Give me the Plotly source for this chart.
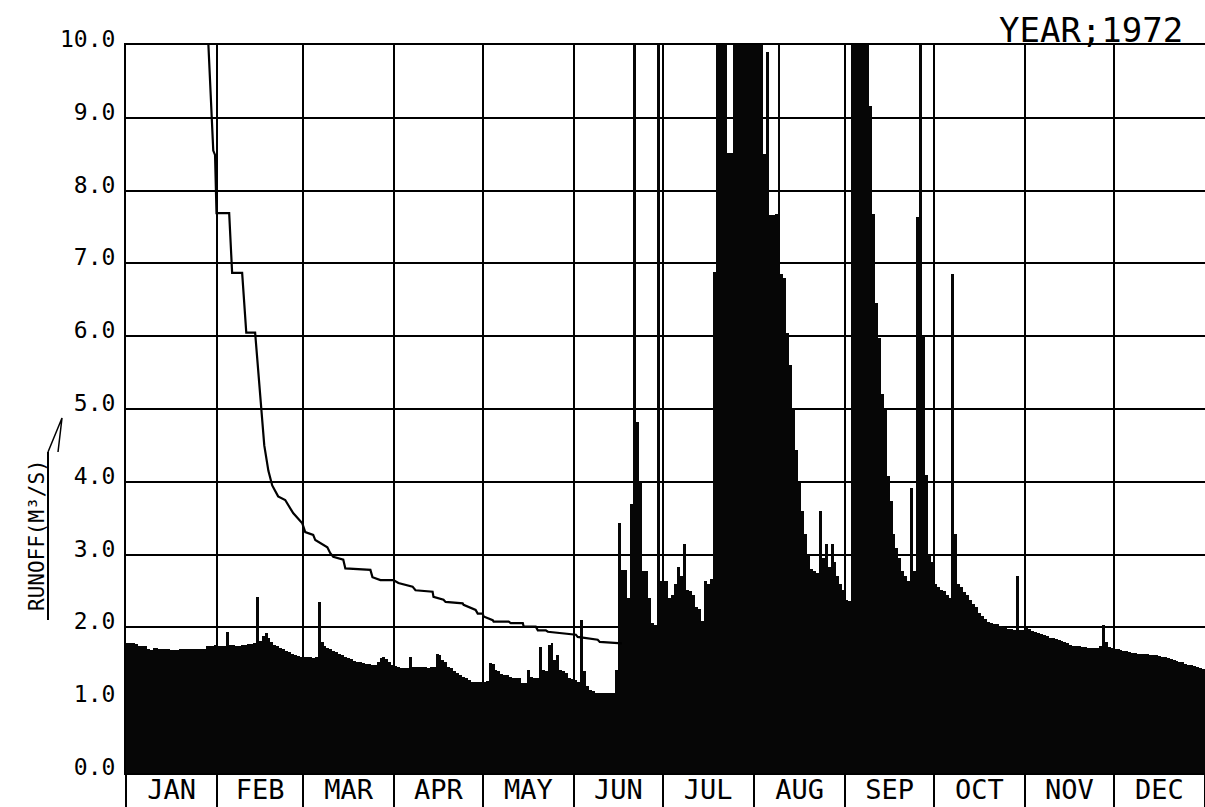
import plotly.graph_objects as go

# ---------------- data ----------------
months = ["JAN", "FEB", "MAR", "APR", "MAY", "JUN", "JUL", "AUG", "SEP", "OCT", "NOV", "DEC"]
month_days = [31, 29, 31, 30, 31, 30, 31, 31, 30, 31, 30, 31]   # 1972 (leap year)

jan = [1.78, 1.78, 1.78, 1.77, 1.75, 1.75, 1.74, 1.70, 1.69, 1.72, 1.72, 1.71, 1.70, 1.70, 1.70, 1.69,
       1.69, 1.69, 1.70, 1.70, 1.70, 1.70, 1.70, 1.70, 1.70, 1.71, 1.71, 1.74, 1.75, 1.75, 1.76]
feb = [1.74, 1.75, 1.75, 1.94, 1.76, 1.76, 1.75, 1.75, 1.76, 1.76, 1.77, 1.77, 1.78, 2.42, 1.82, 1.88,
       1.92, 1.85, 1.80, 1.76, 1.74, 1.72, 1.70, 1.68, 1.66, 1.64, 1.62, 1.61, 1.60]
mar = [1.60, 1.59, 1.59, 1.58, 1.60, 2.35, 1.80, 1.75, 1.72, 1.70, 1.68, 1.66, 1.64, 1.62, 1.60, 1.58,
       1.56, 1.54, 1.53, 1.52, 1.51, 1.50, 1.50, 1.49, 1.49, 1.52, 1.58, 1.60, 1.56, 1.52, 1.48]
apr = [1.47, 1.45, 1.44, 1.44, 1.44, 1.60, 1.46, 1.46, 1.45, 1.45, 1.45, 1.44, 1.45, 1.46, 1.63, 1.62,
       1.55, 1.52, 1.45, 1.44, 1.40, 1.37, 1.35, 1.32, 1.30, 1.28, 1.25, 1.25, 1.25, 1.25]
may = [1.25, 1.26, 1.51, 1.50, 1.42, 1.40, 1.36, 1.35, 1.34, 1.32, 1.31, 1.31, 1.30, 1.24, 1.23, 1.41,
       1.32, 1.31, 1.30, 1.73, 1.42, 1.40, 1.76, 1.78, 1.55, 1.62, 1.42, 1.40, 1.38, 1.31, 1.29]
jun = [1.28, 1.25, 2.10, 1.40, 1.20, 1.14, 1.12, 1.10, 1.10, 1.10, 1.10, 1.10, 1.10, 1.10, 1.41, 3.43,
       2.79, 2.79, 2.40, 3.70, 11.5, 4.82, 4.00, 2.77, 2.77, 2.40, 2.06, 2.03, 10.5, 2.64]
jul = [2.64, 2.64, 2.41, 2.45, 2.60, 2.83, 2.70, 3.15, 2.51, 2.50, 2.45, 2.28, 2.25, 2.09, 2.64, 2.60,
       2.67, 6.88, 11.5, 12.8, 13.5, 12.2, 8.52, 8.52, 10.8, 12.5, 14.0, 15.2, 13.6, 12.4, 11.8]
aug = [12.0, 13.0, 11.0, 8.50, 9.90, 7.66, 7.66, 7.68, 10.5, 6.85, 6.80, 6.05, 5.60, 5.02, 4.44, 3.99,
       3.60, 3.28, 3.00, 2.80, 2.77, 2.75, 3.60, 2.96, 3.15, 2.83, 3.15, 2.90, 2.70, 2.60, 2.51]
sep = [2.38, 2.36, 10.8, 12.5, 14.0, 13.0, 12.0, 10.5, 9.16, 7.68, 6.46, 5.98, 5.21, 4.98, 4.08, 3.73,
       3.28, 3.09, 2.96, 2.77, 2.70, 2.64, 3.92, 2.77, 7.64, 10.5, 6.00, 4.10, 3.00, 2.90]
oct_ = [2.60, 2.55, 2.51, 2.50, 2.45, 2.41, 6.85, 3.28, 2.60, 2.55, 2.48, 2.44, 2.38, 2.32, 2.28, 2.20,
        2.15, 2.12, 2.08, 2.06, 2.05, 2.04, 2.02, 2.00, 1.99, 1.98, 1.98, 1.97, 2.70, 1.97, 1.96]
nov = [1.99, 1.98, 1.95, 1.94, 1.92, 1.91, 1.90, 1.88, 1.86, 1.85, 1.84, 1.83, 1.81, 1.80, 1.78, 1.76,
       1.74, 1.74, 1.74, 1.73, 1.73, 1.72, 1.72, 1.72, 1.72, 1.75, 2.03, 1.80, 1.73, 1.72]
dec = [1.70, 1.70, 1.69, 1.68, 1.67, 1.66, 1.65, 1.65, 1.64, 1.64, 1.63, 1.63, 1.62, 1.62, 1.62, 1.61,
       1.60, 1.59, 1.58, 1.57, 1.55, 1.54, 1.53, 1.52, 1.50, 1.49, 1.48, 1.47, 1.45, 1.44, 1.43]

# flow-duration (stepped) curve: day position and runoff
curve_day = [28.0, 28.4, 30.1, 30.7, 31.2, 35.5, 36.5, 39.9, 41.3, 44.3, 45.4, 46.4, 47.4, 48.8, 50.1,
             52.1, 54.5, 57.2, 60.3, 61.3, 64.0, 64.7, 68.8, 69.8, 70.8, 74.2, 74.9, 83.4, 84.1, 86.8,
             91.2, 92.9, 97.7, 98.7, 104.5, 104.8, 108.2, 108.9, 114.7, 115.0, 119.1, 119.8, 121.5,
             121.8, 124.9, 125.2, 130.3, 131.0, 135.1, 135.4, 139.5, 140.2, 142.9, 143.6, 153.1, 153.7,
             160.5, 161.2, 168.7]
curve_q = [10.4, 10.0, 8.55, 8.49, 7.69, 7.69, 6.87, 6.87, 6.05, 6.05, 5.50, 5.00, 4.50, 4.15, 3.95,
           3.80, 3.75, 3.57, 3.43, 3.31, 3.27, 3.20, 3.10, 3.02, 2.97, 2.93, 2.81, 2.79, 2.69, 2.65,
           2.65, 2.61, 2.56, 2.51, 2.49, 2.42, 2.38, 2.35, 2.33, 2.31, 2.24, 2.19, 2.19,
           2.15, 2.10, 2.08, 2.08, 2.06, 2.06, 2.01, 2.01, 1.96, 1.96, 1.94, 1.90, 1.87,
           1.83, 1.80, 1.78]

y_ticks = [0, 1, 2, 3, 4, 5, 6, 7, 8, 9, 10]
y_tick_labels = ["0.0", "1.0", "2.0", "3.0", "4.0", "5.0", "6.0", "7.0", "8.0", "9.0", "10.0"]
title_text = "YEAR;1972"
y_title = "RUNOFF(M³/S)"

# ---------------- derived ----------------
runoff = jan + feb + mar + apr + may + jun + jul + aug + sep + oct_ + nov + dec
days = list(range(1, len(runoff) + 1))
n_days = len(runoff)

starts = []
s = 1
for n in month_days:
    starts.append(s)
    s += n
boundaries = [st - 0.5 for st in starts] + [n_days + 0.5]
centers = [st + n / 2 - 0.5 for st, n in zip(starts, month_days)]

# pixel helpers for the plot frame (layout only)
W, H = 1205, 807
L, R, T, B = 126, 0, 45, 34
pw, ph = W - L - R, H - T - B


def px(xp):
    return (xp - L) / pw


def py(yp):
    return (H - B - yp) / ph


MONO = "DejaVu Sans Mono"

fig = go.Figure()
fig.add_trace(go.Bar(
    x=days, y=runoff, width=1.0,
    marker=dict(color="#060606", line=dict(width=0)),
    hoverinfo="x+y",
))
fig.add_trace(go.Scatter(
    x=curve_day, y=curve_q, mode="lines",
    line=dict(color="#000000", width=2.2),
))

fig.update_layout(
    template="none",
    width=W, height=H,
    margin=dict(l=L, r=R, t=T, b=B, pad=0, autoexpand=False),
    paper_bgcolor="white", plot_bgcolor="white",
    showlegend=False, bargap=0,
    xaxis=dict(
        automargin=False,
        range=[0.5, n_days + 0.5],
        tickmode="array", tickvals=centers, ticktext=months,
        ticks="", showgrid=False, zeroline=False,
        showline=True, linecolor="black", linewidth=2, mirror=True,
        tickfont=dict(family=MONO, size=27, color="black"),
        ticklabelstandoff=-8,
        minor=dict(tickmode="array", tickvals=boundaries, ticks="outside", ticklen=34,
                   tickwidth=2, tickcolor="black", showgrid=True, gridcolor="black", gridwidth=2),
    ),
    yaxis=dict(
        automargin=False,
        range=[0, 10],
        tickmode="array", tickvals=y_ticks, ticktext=y_tick_labels,
        ticks="", showgrid=True, gridcolor="black", gridwidth=2, zeroline=False,
        showline=True, linecolor="black", linewidth=2, mirror=True,
        tickfont=dict(family=MONO, size=23, color="black"),
        ticklabelstandoff=4, ticklabelshift=-6,
    ),
)

fig.add_annotation(
    text=title_text, xref="paper", yref="paper", x=px(1185), y=py(30),
    xanchor="right", yanchor="middle", showarrow=False,
    font=dict(family=MONO, size=34, color="black"),
)
fig.add_annotation(
    text=y_title,
    xref="paper", yref="paper", x=px(37), y=py(535),
    xanchor="center", yanchor="middle", showarrow=False, textangle=-90,
    font=dict(family=MONO, size=21, color="black"),
)
# underline + arrow head of the axis title
fig.add_shape(type="line", xref="paper", yref="paper",
              x0=px(48), x1=px(48), y0=py(620), y1=py(452),
              line=dict(color="black", width=2))
fig.add_shape(type="path", xref="paper", yref="paper",
              path=f"M {px(48)},{py(452)} L {px(62)},{py(418)} L {px(58)},{py(452)}",
              line=dict(color="black", width=1.5))

fig.write_html("out.html",
               config={"displayModeBar": False},
               post_script="document.body.style.margin='0px';document.body.style.overflow='hidden';")
